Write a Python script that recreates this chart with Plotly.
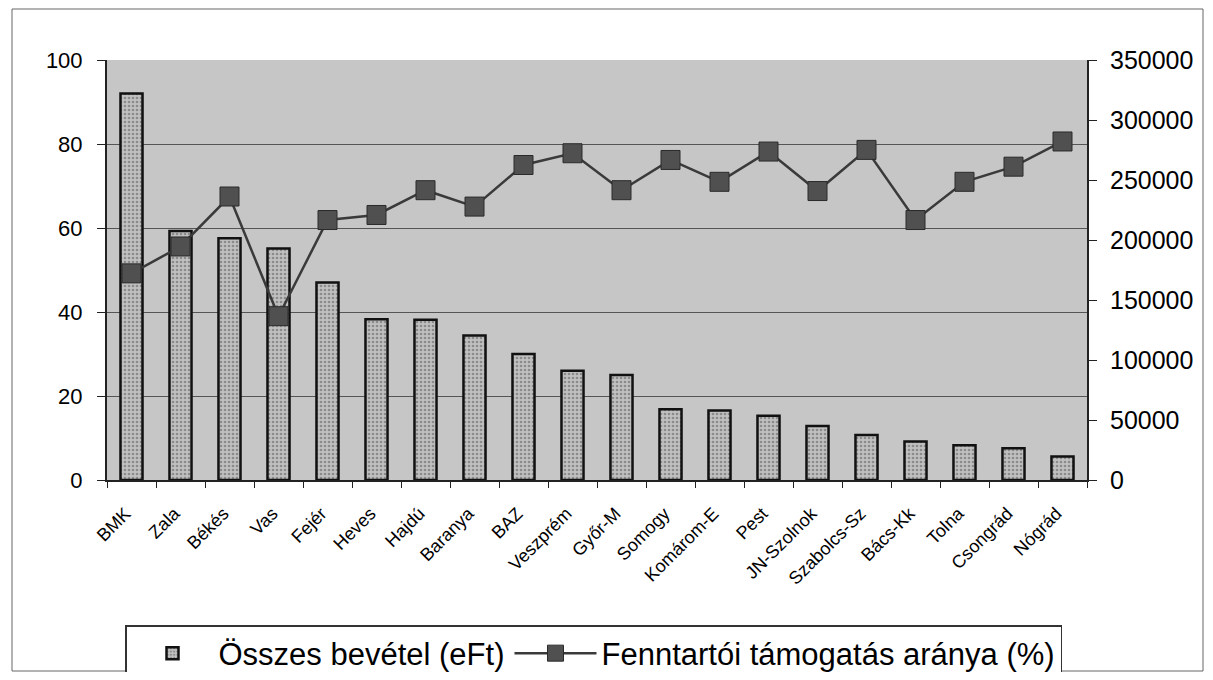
import plotly.graph_objects as go

categories = ["BMK", "Zala", "Békés", "Vas", "Fejér", "Heves", "Hajdú", "Baranya", "BAZ",
              "Veszprém", "Győr-M", "Somogy", "Komárom-E", "Pest", "JN-Szolnok",
              "Szabolcs-Sz", "Bács-Kk", "Tolna", "Csongrád", "Nógrád"]
revenue = [322000, 207500, 201500, 193000, 164500, 134000, 133500, 120500, 105000,
           91000, 87500, 59000, 58000, 53500, 45000, 37500, 32000, 29000, 26500, 19500]
ratio = [49.2, 55.6, 67.5, 39.0, 61.9, 63.1, 69.0, 65.1, 75.0,
         77.8, 69.0, 76.2, 71.0, 78.2, 68.8, 78.6, 61.9, 71.0, 74.6, 80.6]

bar_name = "Összes bevétel (eFt)"
line_name = "Fenntartói támogatás aránya (%)"

FONT = "Liberation Sans, Arial, sans-serif"

# page has an 8px body margin: figure occupies page x 8..1205, y 8..672
W, H = 1197, 664
L, T = 99, 52
R = W - (1087 - 8)
B = H - (480 - 8)
PW, PH = W - L - R, H - T - B

fig = go.Figure()
fig.add_trace(go.Bar(
    x=categories, y=revenue, name=bar_name, yaxis="y",
    marker=dict(color="#b4b4b4",
                line=dict(color="#111111", width=2.5),
                pattern=dict(shape=".", fgcolor="#555555", bgcolor="#c0c0c0",
                             size=4, solidity=0.35)),
    width=0.45,
))
fig.add_trace(go.Scatter(
    x=categories, y=ratio, name=line_name, yaxis="y2",
    mode="lines+markers",
    line=dict(color="#3a3a3a", width=2.5),
    marker=dict(symbol="square", size=19, color="#505050",
                line=dict(color="#2a2a2a", width=1)),
))

fig.update_layout(
    width=W, height=H,
    margin=dict(l=L, r=R, t=T, b=B, autoexpand=False),
    paper_bgcolor="white",
    plot_bgcolor="#c6c6c6",
    font=dict(family=FONT, color="black"),
    bargap=0.55,
    xaxis=dict(
        type="category",
        range=[-0.5, len(categories) - 0.5],
        tickangle=-45,
        tickfont=dict(size=18),
        ticks="outside", ticklen=6, tickcolor="#222",
        tickson="boundaries",
        ticklabelstandoff=14,
        ticklabelshift=-6,
        showline=True, linecolor="#222", linewidth=2,
        showgrid=False, automargin=False,
    ),
    yaxis=dict(
        side="right",
        range=[0, 350000], dtick=50000,
        tickformat="d",
        tickfont=dict(size=25),
        ticks="outside", ticklen=8, tickcolor="#222",
        ticklabelstandoff=8,
        showline=True, linecolor="#222", linewidth=2,
        showgrid=False, zeroline=False, automargin=False,
    ),
    yaxis2=dict(
        overlaying="y", side="left",
        range=[0, 100], dtick=20,
        tickfont=dict(size=22),
        ticks="outside", ticklen=8, tickcolor="#222",
        ticklabelstandoff=10,
        showline=True, linecolor="#222", linewidth=2,
        showgrid=True, gridcolor="#555555", gridwidth=1,
        zeroline=False, automargin=False,
    ),
    legend=dict(
        orientation="h",
        x=(593.5 - 107) / PW, xanchor="center",
        y=-145 / PH, yanchor="top",
        font=dict(size=31, family=FONT, color="black"),
        bordercolor="#333", borderwidth=1.5,
        bgcolor="white",
        itemwidth=82,
        tracegroupgap=0,
    ),
    showlegend=True,
)

fig.add_shape(type="rect", xref="paper", yref="paper",
              x0=(12 - 107) / PW, x1=(1203 - 107) / PW,
              y0=(480 - 671) / PH, y1=(480 - 9) / PH,
              line=dict(color="#666", width=1), fillcolor="rgba(0,0,0,0)", layer="below")

fig.write_html("out.html")
